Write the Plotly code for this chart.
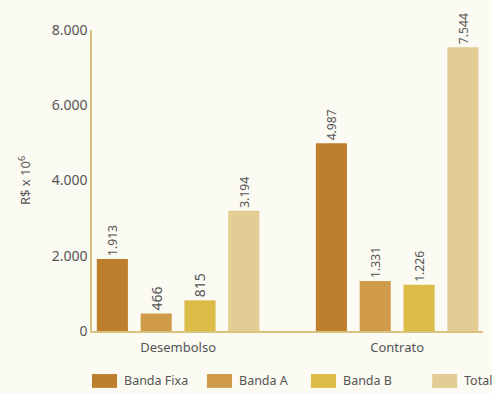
import plotly.graph_objects as go

# Values in R$ millions
categories = ["Desembolso", "Contrato"]
series_names = ["Banda Fixa", "Banda A", "Banda B", "Total"]
banda_fixa = [1913, 4987]
banda_a = [466, 1331]
banda_b = [815, 1226]
total = [3194, 7544]
y_ticks = [0, 2000, 4000, 6000, 8000]

series_values = [banda_fixa, banda_a, banda_b, total]
colors = ["#bd7f2d", "#cf9b4b", "#dcbb47", "#e3cd94"]
text_gray = "#555555"
axis_gold = "#d8c37c"
font_family = "Noto Sans, Open Sans, sans-serif"

fig = go.Figure()
for name, vals, col in zip(series_names, series_values, colors):
    fig.add_trace(go.Bar(
        x=categories, y=vals, name=name,
        marker=dict(color=col, line=dict(width=0)),
        texttemplate="%{y:,.0f}", textposition="outside",
        textangle=-90, cliponaxis=False,
        textfont=dict(family=font_family, size=14, color=text_gray),
        showlegend=False,
    ))

# Legend drawn below the plot: coloured swatch followed by the series name
legend_x = [0.0, 0.294, 0.560, 0.870]
sw_w = 0.064
shapes = []
annotations = []
for name, col, lx in zip(series_names, colors, legend_x):
    shapes.append(dict(type="rect", xref="paper", yref="paper",
                       x0=lx, x1=lx + sw_w, y0=-0.189, y1=-0.143,
                       fillcolor=col, line=dict(width=0)))
    annotations.append(dict(xref="paper", yref="paper", x=lx + sw_w + 0.013,
                            y=-0.166, text=name, showarrow=False,
                            xanchor="left", yanchor="middle",
                            font=dict(family=font_family, size=12.5, color=text_gray)))

fig.update_layout(
    width=492, height=394,
    margin=dict(l=92, r=9, t=30, b=63),
    paper_bgcolor="#fbfbf3", plot_bgcolor="#fbfbf3",
    barmode="group", bargap=0.2, bargroupgap=0.29,
    separators=",.",
    font=dict(family=font_family, color=text_gray),
    shapes=shapes, annotations=annotations,
    xaxis=dict(range=[-0.393, 1.392], showline=True, linecolor=axis_gold,
               linewidth=1.5, ticks="", showgrid=False, ticklabelstandoff=4,
               tickfont=dict(size=13, color=text_gray)),
    yaxis=dict(range=[0, 8000], tickvals=y_ticks, tickformat=",.0f",
               showline=True, linecolor=axis_gold, linewidth=1.5,
               ticks="", showgrid=False, zeroline=False,
               tickfont=dict(size=14, color=text_gray),
               title=dict(text="R$ x 10<sup>6</sup>", standoff=18,
                          font=dict(size=13, color=text_gray))),
)

fig.write_html("out.html")
